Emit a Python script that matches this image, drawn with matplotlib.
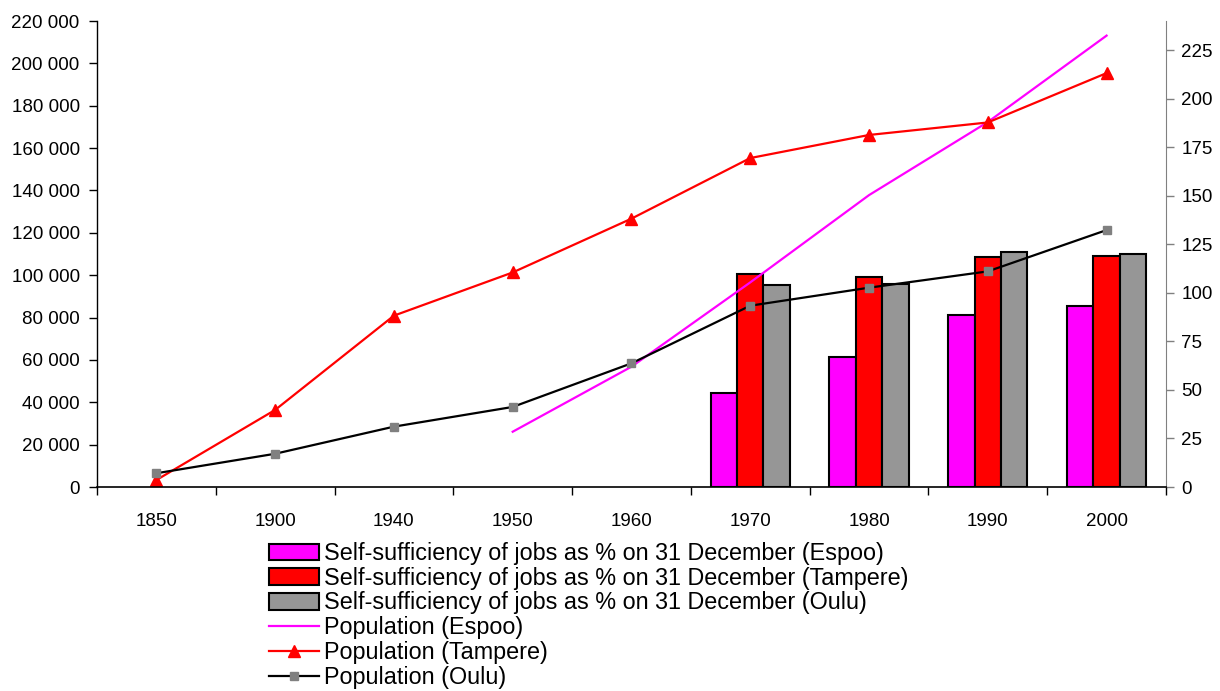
import matplotlib.pyplot as plt
import numpy as np
from matplotlib.ticker import FuncFormatter, FixedLocator

plt.rcParams['font.family'] = ['Liberation Sans', 'DejaVu Sans']

# years on the category axis
years = ["1850", "1900", "1940", "1950", "1960", "1970", "1980", "1990", "2000"]

# population (left axis); None where there is no figure
popEspoo = [None, None, None, 26100, 56800, 96600, 137800, 172300, 213100]
popTampere = [3300, 36400, 80900, 101300, 126700, 155300, 166200, 172100, 195400]
popOulu = [6500, 15700, 28500, 37800, 58400, 85600, 94100, 101800, 121300]

# self-sufficiency of jobs, % (right axis), 1970-2000 only
jobsYears = ["1970", "1980", "1990", "2000"]
jobsEspoo = [48.6, 67.1, 88.4, 93.0]
jobsTampere = [109.7, 108.0, 118.4, 119.1]
jobsOulu = [104.2, 104.4, 120.8, 120.0]

fig = plt.figure(figsize=(12.2, 6.91), dpi=100)
axPop = fig.add_axes([0.0795, 0.2952, 0.8762, 0.6744])
axPct = axPop.twinx()
# bars go behind the population lines
axPct.set_zorder(axPop.get_zorder() - 1)
axPop.patch.set_visible(False)

x = np.arange(len(years))
jx = np.array([years.index(y) for y in jobsYears])
w = 1 / 4.5
barStyle = dict(width=w, edgecolor="black", linewidth=1.5)
b1 = axPct.bar(jx - w, jobsEspoo, color="#FF00FF", **barStyle,
               label="Self-sufficiency of jobs as % on 31 December (Espoo)")
b2 = axPct.bar(jx, jobsTampere, color="#FF0000", **barStyle,
               label="Self-sufficiency of jobs as % on 31 December (Tampere)")
b3 = axPct.bar(jx + w, jobsOulu, color="#969696", **barStyle,
               label="Self-sufficiency of jobs as % on 31 December (Oulu)")

espoo = np.array([np.nan if v is None else v for v in popEspoo], dtype=float)
l1, = axPop.plot(x, espoo, color="#FF00FF", linewidth=1.6, label="Population (Espoo)")
l2, = axPop.plot(x, popTampere, color="#FF0000", linewidth=1.6, marker="^",
                 markersize=9, label="Population (Tampere)")
l3, = axPop.plot(x, popOulu, color="black", linewidth=1.6, marker="s",
                 markersize=6, markerfacecolor="#808080", markeredgecolor="#808080",
                 label="Population (Oulu)")

axPop.set_xlim(-0.5, len(years) - 0.5)
axPop.set_ylim(0, 220000)
axPop.set_yticks(np.arange(0, 220001, 20000))
axPop.yaxis.set_major_formatter(FuncFormatter(lambda v, p: f"{int(v):,}".replace(",", " ")))
axPct.set_ylim(0, 240)
axPct.set_yticks(np.arange(0, 226, 25))

axPop.set_xticks(x)
axPop.set_xticklabels(years)
axPop.xaxis.set_minor_locator(FixedLocator(np.arange(-0.5, len(years), 1)))
axPop.tick_params(axis="x", which="major", length=0, pad=19, labelsize=13.5)
axPop.tick_params(axis="x", which="minor", length=6, width=1, direction="out")
axPop.tick_params(axis="y", length=6, width=1, pad=6.5, labelsize=13.5)
axPct.tick_params(axis="y", length=6, width=1, pad=5, labelsize=13.5, color="#808080")

for a in (axPop, axPct):
    a.spines["top"].set_visible(False)
axPop.spines["right"].set_visible(False)
axPct.spines["left"].set_visible(False)
axPct.spines["bottom"].set_visible(False)
axPct.spines["right"].set_color("#808080")
axPop.spines["left"].set_linewidth(1)
axPop.spines["bottom"].set_linewidth(1.2)

fig.legend(handles=[b1, b2, b3, l1, l2, l3], loc="upper left",
           bbox_to_anchor=(269 / 1220, 1 - 542 / 691), frameon=False,
           fontsize=16.8, handlelength=2.15, handleheight=0.7,
           handletextpad=0.2, labelspacing=0.075, borderpad=0, borderaxespad=0)

fig.savefig("out.png", dpi=100)
